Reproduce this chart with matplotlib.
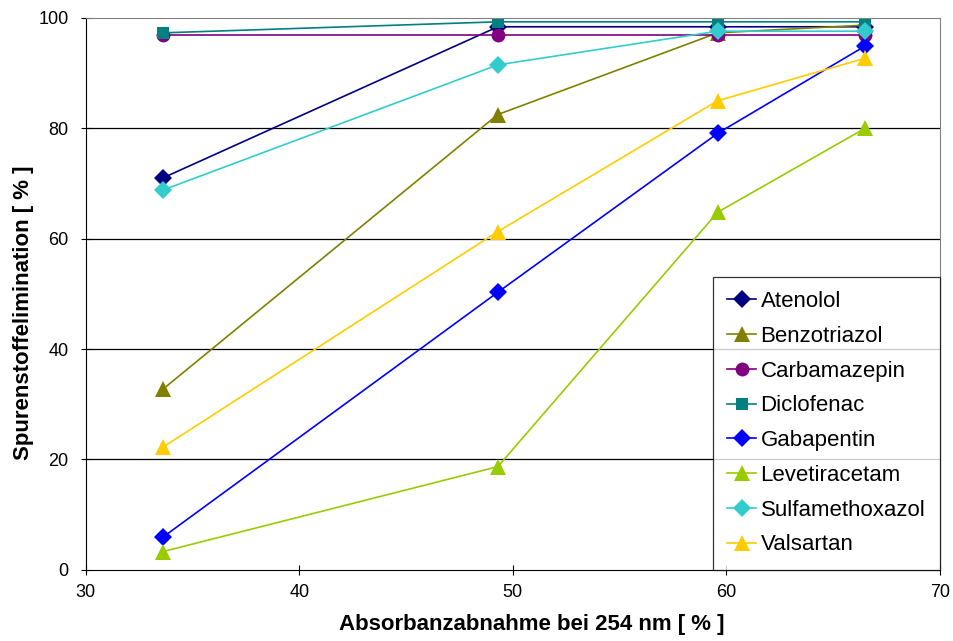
import matplotlib.pyplot as plt

plt.rcParams['font.family'] = ['Liberation Sans', 'DejaVu Sans']

absorbanz = [33.6, 49.3, 59.6, 66.5]

names = ['Atenolol', 'Benzotriazol', 'Carbamazepin', 'Diclofenac',
         'Gabapentin', 'Levetiracetam', 'Sulfamethoxazol', 'Valsartan']

atenolol = [71.0, 98.4, 98.4, 98.4]
benzotriazol = [32.7, 82.5, 97.3, 98.7]
carbamazepin = [97.0, 97.0, 97.0, 97.0]
diclofenac = [97.3, 99.3, 99.3, 99.3]
gabapentin = [5.9, 50.3, 79.1, 94.9]
levetiracetam = [3.3, 18.7, 64.8, 80.0]
sulfamethoxazol = [68.8, 91.5, 97.6, 97.6]
valsartan = [22.2, 61.3, 85.0, 92.7]

series = [atenolol, benzotriazol, carbamazepin, diclofenac,
          gabapentin, levetiracetam, sulfamethoxazol, valsartan]
colors = ['#000080', '#808000', '#800080', '#008080',
          '#0000FF', '#99CC00', '#33CCCC', '#FFCC00']
markers = ['D', '^', 'o', 's', 'D', '^', 'D', '^']
sizes = [9.5, 11, 10, 9, 9.5, 11, 9.5, 11]

fig = plt.figure(figsize=(9.54, 6.41), dpi=100)
ax = fig.add_axes([0.090, 0.111, 0.895, 0.861])

for y in [20, 40, 60, 80]:
    ax.axhline(y, color='black', lw=0.9, zorder=0)

for name, vals, c, m, s in zip(names, series, colors, markers, sizes):
    ax.plot(absorbanz, vals, color=c, marker=m, markersize=s, lw=1.2,
            label=name, markeredgewidth=0)

ax.set_xlim(30, 70)
ax.set_ylim(0, 100)
ax.set_xticks([30, 40, 50, 60, 70])
ax.set_yticks([0, 20, 40, 60, 80, 100])
ax.tick_params(labelsize=13, length=7, direction='inout', width=0.8)
ax.tick_params(axis='y', pad=9)
ax.tick_params(axis='x', pad=7)

for side in ['top', 'right']:
    ax.spines[side].set_color('#808080')
for side in ['left', 'bottom']:
    ax.spines[side].set_color('black')

ax.set_xlabel('Absorbanzabnahme bei 254 nm [ % ]', fontsize=16,
              fontweight='bold')
ax.xaxis.set_label_coords(0.522, -0.080)
ax.set_ylabel('Spurenstoffelimination [ % ]', fontsize=16,
              fontweight='bold')
ax.yaxis.set_label_coords(-0.061, 0.466)

leg = ax.legend(loc='lower right', fontsize=16, frameon=True, fancybox=False,
                edgecolor='black', borderaxespad=0, labelspacing=0.62,
                handlelength=1.3, handletextpad=0.2, borderpad=0.65)
leg.get_frame().set_linewidth(0.9)

fig.savefig('out.png', dpi=100)
